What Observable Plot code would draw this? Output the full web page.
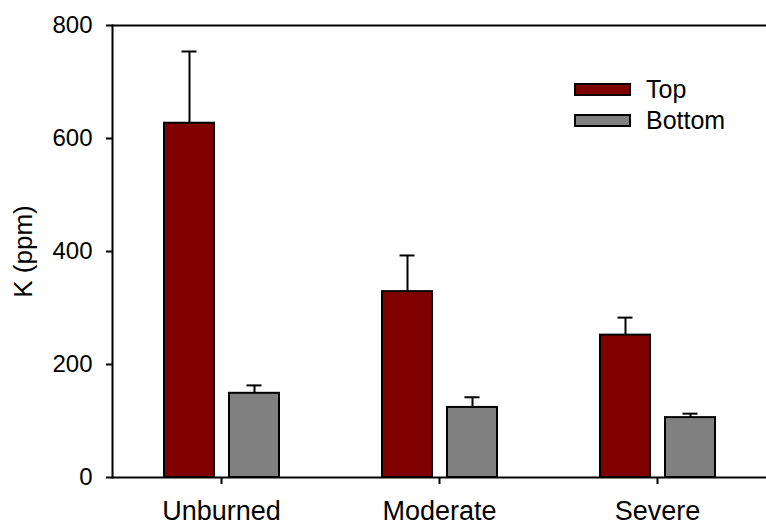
<!DOCTYPE html>
<html>
<head>
<meta charset="utf-8">
<script src="https://cdn.jsdelivr.net/npm/d3@7"></script>
<script src="https://cdn.jsdelivr.net/npm/@observablehq/plot@0.6"></script>
<style>
  html, body { margin: 0; padding: 0; background: #fff; }
  #wrap { position: relative; width: 766px; height: 525px; font-family: "Liberation Sans", Arial, sans-serif; }
  #legend { position: absolute; left: 574px; top: 74px; }
  .row { display: flex; align-items: center; height: 31px; }
  .sw { width: 57px; height: 13px; box-sizing: border-box; border: 2px solid #000; margin-right: 15px; }
  .lab { font-size: 25px; color: #000; line-height: 1; }
</style>
</head>
<body>
<div id="wrap"></div>
<script>
const categories = ["Unburned", "Moderate", "Severe"];
const topValues = [627, 329, 252];
const topErrors = [127, 64, 31];
const bottomValues = [149, 124, 106];
const bottomErrors = [14, 18, 7];
const yTicks = [0, 200, 400, 600, 800];
const seriesNames = ["Top", "Bottom"];
const seriesColors = ["#800000", "#808080"];
const yLabel = "K (ppm)";

const topRows = categories.map((c, i) => ({cat: c, value: topValues[i], hi: topValues[i] + topErrors[i]}));
const bottomRows = categories.map((c, i) => ({cat: c, value: bottomValues[i], hi: bottomValues[i] + bottomErrors[i]}));

function seriesMarks(rows, color, dx) {
  return [
    Plot.ruleX(rows, {x: "cat", y1: "value", y2: "hi", dx, stroke: "#000", strokeWidth: 2}),
    Plot.tickY(rows, {x: "cat", y: "hi", dx, inset: 101.5, stroke: "#000", strokeWidth: 2}),
    Plot.barY(rows, {x: "cat", y: "value", dx, insetLeft: 84, insetRight: 84, fill: color, stroke: "#000", strokeWidth: 2})
  ];
}

const chart = Plot.plot({
  width: 766,
  height: 525,
  marginLeft: 112,
  marginRight: 0,
  marginTop: 25,
  marginBottom: 48,
  style: {fontFamily: "'Liberation Sans', Arial, sans-serif", color: "#000", background: "#fff", overflow: "visible"},
  x: {domain: categories, padding: 0, label: null},
  y: {domain: [0, 800], label: null},
  marks: [
    ...seriesMarks(topRows, seriesColors[0], -32),
    ...seriesMarks(bottomRows, seriesColors[1], 33),
    Plot.ruleY([0, 800], {stroke: "#000", strokeWidth: 2}),
    Plot.frame({anchor: "left", stroke: "#000", strokeWidth: 2}),
    Plot.axisY({ticks: yTicks, tickSize: 6, tickPadding: 14, fontSize: 24, strokeWidth: 2, label: null}),
    Plot.axisX({tickSize: 7, tickPadding: 16, fontSize: 27, strokeWidth: 2, label: null}),
    Plot.text([yLabel], {frameAnchor: "left", rotate: -90, dx: -89, textAnchor: "middle", lineAnchor: "middle", fontSize: 26})
  ]
});

const wrap = document.getElementById("wrap");
wrap.appendChild(chart);

const legend = document.createElement("div");
legend.id = "legend";
seriesNames.forEach((name, i) => {
  const row = document.createElement("div");
  row.className = "row";
  const sw = document.createElement("div");
  sw.className = "sw";
  sw.style.background = seriesColors[i];
  const lab = document.createElement("span");
  lab.className = "lab";
  lab.textContent = name;
  row.appendChild(sw);
  row.appendChild(lab);
  legend.appendChild(row);
});
wrap.appendChild(legend);
</script>
</body>
</html>
